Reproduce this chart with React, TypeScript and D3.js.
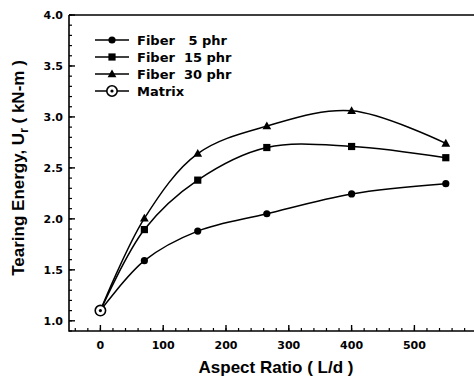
import React from 'react';
import * as d3 from 'd3';

// aspect ratio (L/d) values measured for the fibre compounds
const aspectRatios = [70, 155, 265, 400, 550];
const fiber5 = [1.59, 1.88, 2.05, 2.245, 2.345];
const fiber15 = [1.895, 2.38, 2.7, 2.71, 2.6];
const fiber30 = [2.005, 2.64, 2.91, 3.06, 2.74];
// unfilled matrix value, every fibre curve starts from it
const matrixPoint = [0, 1.1];

const xTickValues = [0, 100, 200, 300, 400, 500];
const yTickValues = [1.0, 1.5, 2.0, 2.5, 3.0, 3.5, 4.0];

const seriesNames = ['Fiber   5 phr', 'Fiber  15 phr', 'Fiber  30 phr', 'Matrix'];

const FONT = '"DejaVu Sans", sans-serif';
const TITLE_FONT = '"Liberation Sans", Arial, sans-serif';

const Marker = ({kind, x, y}) => {
    if (kind === 'circle') return <circle cx={x} cy={y} r={3.6} fill="#000" />;
    if (kind === 'square') return <rect x={x - 3.6} y={y - 3.6} width={7.2} height={7.2} fill="#000" />;
    if (kind === 'triangle')
        return <path d={`M${x},${y - 4.6}L${x + 4.4},${y + 3.2}L${x - 4.4},${y + 3.2}Z`} fill="#000" />;
    return (
        <g>
            <circle cx={x} cy={y} r={5.2} fill="#fff" stroke="#000" strokeWidth={1.6} />
            <circle cx={x} cy={y} r={1.6} fill="#000" />
        </g>
    );
};

const App = () => {
    const width = 474;
    const height = 378;
    const margin = {top: 15, left: 69, bottom: 47};

    const x = d3.scaleLinear().domain([-50, 600]).range([margin.left, margin.left + 650 * 0.628]);
    const y = d3.scaleLinear().domain([0.9, 4.0]).range([height - margin.bottom, margin.top]);

    const line = d3
        .line()
        .x((d) => x(d[0]))
        .y((d) => y(d[1]))
        .curve(d3.curveCatmullRom.alpha(0.5));

    const series = [
        {values: fiber5, marker: 'circle'},
        {values: fiber15, marker: 'square'},
        {values: fiber30, marker: 'triangle'},
    ];

    const x0 = x.range()[0];
    const x1 = x.range()[1];
    const y0 = y.range()[0];
    const y1 = y.range()[1];

    const xMinor = d3.range(-40, 601, 20);
    const yMinor = d3.range(9, 41).map((v) => v / 10);

    const legendMarkers = ['circle', 'square', 'triangle', 'matrix'];

    return (
        <svg width={width} height={height} style={{position: 'absolute', left: 0, top: 0}} fontFamily={FONT}>
            <rect width={width} height={height} fill="#fff" />

            {/* frame */}
            <path d={`M${x0},${y1}H${x1 + 5}M${x0},${y1}V${y0}H${x1 + 5}`} fill="none" stroke="#000" strokeWidth={1.6} />

            {/* x ticks */}
            {xMinor.map((v) => (
                <line key={'xm' + v} x1={x(v)} x2={x(v)} y1={y0} y2={y0 - 3} stroke="#000" strokeWidth={1.2} />
            ))}
            {xTickValues.map((v) => (
                <g key={'x' + v}>
                    <line x1={x(v)} x2={x(v)} y1={y0} y2={y0 - 6} stroke="#000" strokeWidth={1.4} />
                    <text x={x(v)} y={y0 + 18} textAnchor="middle" fontSize={11} fontWeight="bold">
                        {v}
                    </text>
                </g>
            ))}

            {/* y ticks */}
            {yMinor.map((v) => (
                <line key={'ym' + v} x1={x0} x2={x0 + 3} y1={y(v)} y2={y(v)} stroke="#000" strokeWidth={1.2} />
            ))}
            {yTickValues.map((v) => (
                <g key={'y' + v}>
                    <line x1={x0} x2={x0 + 6} y1={y(v)} y2={y(v)} stroke="#000" strokeWidth={1.4} />
                    <text x={x0 - 6} y={y(v) + 4} textAnchor="end" fontSize={11} fontWeight="bold">
                        {v.toFixed(1)}
                    </text>
                </g>
            ))}

            {/* axis titles */}
            <text x={276} y={373} textAnchor="middle" fontSize={17} fontWeight="bold" fontFamily={TITLE_FONT}>
                Aspect Ratio ( L/d )
            </text>
            <text
                transform="translate(24,168) rotate(-90)"
                textAnchor="middle"
                fontSize={17}
                fontWeight="bold"
                fontFamily={TITLE_FONT}
            >
                Tearing Energy, U<tspan fontSize={12} dy={4}>r</tspan>
                <tspan dy={-4}> ( kN-m )</tspan>
            </text>

            {/* curves */}
            {series.map((s, i) => (
                <g key={'s' + i}>
                    <path
                        d={line([matrixPoint, ...aspectRatios.map((a, j) => [a, s.values[j]])])}
                        fill="none"
                        stroke="#000"
                        strokeWidth={1.5}
                    />
                    {aspectRatios.map((a, j) => (
                        <Marker key={j} kind={s.marker} x={x(a)} y={y(s.values[j])} />
                    ))}
                </g>
            ))}
            <Marker kind="matrix" x={x(matrixPoint[0])} y={y(matrixPoint[1])} />

            {/* legend */}
            {seriesNames.map((name, i) => {
                const ly = 40 + i * 17;
                return (
                    <g key={name}>
                        <line x1={95} x2={129} y1={ly} y2={ly} stroke="#000" strokeWidth={1.5} />
                        <Marker kind={legendMarkers[i]} x={112} y={ly} />
                        <text x={137} y={ly + 4.5} fontSize={13} fontWeight="bold" style={{whiteSpace: 'pre'}}>
                            {name}
                        </text>
                    </g>
                );
            })}
        </svg>
    );
};

export default App;
